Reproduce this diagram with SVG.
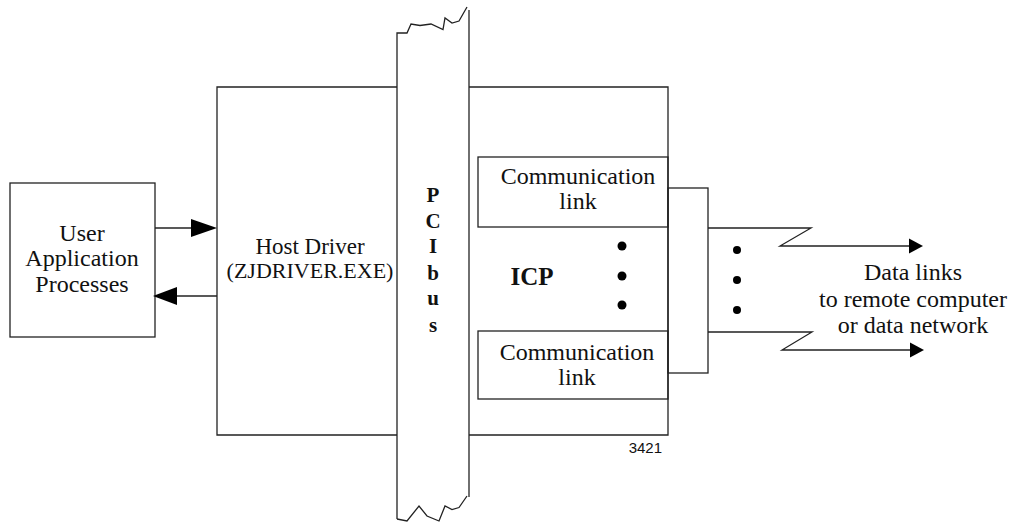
<svg xmlns="http://www.w3.org/2000/svg" width="1018" height="524" viewBox="0 0 1018 524">
<style>
.ln{fill:none;stroke:#222;stroke-width:1.3}
.ah{fill:#000;stroke:none}
.t{font-family:"Liberation Serif","Times New Roman",serif;font-size:24px;fill:#111;text-anchor:middle}
.b{font-weight:bold}
.dot{fill:#000}
</style>
<rect width="1018" height="524" fill="#fff"/>
<g id="user">
<rect class="ln" x="10" y="183" width="145" height="154"/>
<text class="t" x="82" y="241">User</text>
<text class="t" x="82" y="266">Application</text>
<text class="t" x="82" y="292">Processes</text>
</g>
<g id="host">
<polyline class="ln" points="397,87 217,87 217,435 397,435"/>
<text class="t" x="310" y="254" style="font-size:23px">Host Driver</text>
<text class="t" x="310" y="278" style="font-size:22px">(ZJDRIVER.EXE)</text>
</g>
<g id="bus">
<polyline class="ln" points="397,519 397,33 407,33 411,24 420,25.5 431,24 443,29.5 445,18 452,23 459,21 467,7"/>
<line class="ln" x1="469" y1="10" x2="469" y2="497"/>
<polyline class="ln" points="397,519 407,521 419,506 427,516 439,521 445,506 452,509.5 459,507.5 467,496"/>
<g class="t b" style="font-size:21px">
<text x="433" y="202">P</text>
<text x="433" y="228">C</text>
<text x="433" y="253">I</text>
<text x="433" y="280">b</text>
<text x="433" y="305">u</text>
<text x="433" y="332">s</text>
</g>
</g>
<g id="icp">
<polyline class="ln" points="469,87 668,87 668,435 469,435"/>
<text class="t b" x="532" y="285" style="font-size:25px">ICP</text>
<circle class="dot" cx="622" cy="246" r="4.5"/>
<circle class="dot" cx="622" cy="276" r="4.5"/>
<circle class="dot" cx="622" cy="305" r="4.5"/>
<text x="662" y="453" style="font-family:'Liberation Sans',Arial,sans-serif;font-size:15px;fill:#111;text-anchor:end">3421</text>
</g>
<g id="link1">
<rect class="ln" x="478" y="157" width="190" height="70"/>
<text class="t" x="578" y="184">Communication</text>
<text class="t" x="578" y="209">link</text>
</g>
<g id="link2">
<rect class="ln" x="478" y="331" width="190" height="68"/>
<text class="t" x="577" y="360">Communication</text>
<text class="t" x="577" y="385">link</text>
</g>
<g id="combiner">
<rect class="ln" x="668" y="188" width="40" height="185"/>
<circle class="dot" cx="737" cy="250" r="4"/>
<circle class="dot" cx="737" cy="280" r="4"/>
<circle class="dot" cx="737" cy="310" r="4"/>
</g>
<g id="datalinks">
<text class="t" x="913" y="280">Data links</text>
<text class="t" x="913" y="307">to remote computer</text>
<text class="t" x="913" y="333">or data network</text>
</g>
<g id="connectors">
<line class="ln" x1="155" y1="228" x2="192" y2="228"/>
<polygon class="ah" points="191,219 217,228 191,237"/>
<line class="ln" x1="217" y1="296" x2="176" y2="296"/>
<polygon class="ah" points="177,287 153,296 177,305"/>
<polyline class="ln" points="708,228 811,228 780,246 910,246"/>
<polygon class="ah" points="909,238.5 923,246 909,253.5"/>
<polyline class="ln" points="708,332 812,332 782,350 911,350"/>
<polygon class="ah" points="910,342.5 924,350 910,357.5"/>
</g>
</svg>
